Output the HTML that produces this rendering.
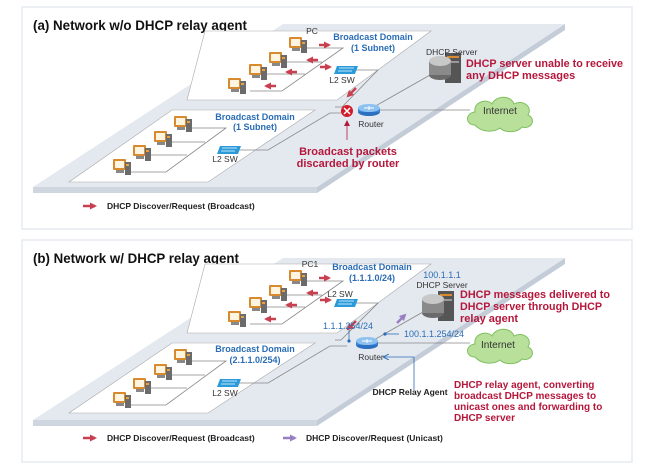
<!DOCTYPE html>
<html><head><meta charset="utf-8"><style>
body{margin:0;background:#fff;width:648px;height:471px;overflow:hidden}
svg{display:block}
text{font-family:"Liberation Sans",sans-serif}
.t{font-size:14px;font-weight:bold;fill:#111}
.s{font-size:8.5px;fill:#333}
.b{font-size:9px;font-weight:bold;fill:#2a6db5}
.bl{font-size:9px;fill:#2a6db5}
.r{font-size:11px;font-weight:bold;fill:#b5173b}
.lg{font-size:8.5px;font-weight:bold;fill:#222}
</style></head><body>
<svg width="648" height="471" viewBox="0 0 648 471" xmlns="http://www.w3.org/2000/svg">
<defs>
<marker id="ar" markerUnits="userSpaceOnUse" markerWidth="7" markerHeight="7" refX="5" refY="3.5" orient="auto"><path d="M0,0L7,3.5L0,7z" fill="#c8404f"/></marker>
<marker id="ap" markerUnits="userSpaceOnUse" markerWidth="7" markerHeight="7" refX="5" refY="3.5" orient="auto"><path d="M0,0L7,3.5L0,7z" fill="#9a7fc0"/></marker>
<marker id="ab" markerUnits="userSpaceOnUse" markerWidth="6" markerHeight="6" refX="5" refY="3" orient="auto"><path d="M0,0L6,3L0,6" fill="none" stroke="#2a6db5"/></marker>
<marker id="ad" markerUnits="userSpaceOnUse" markerWidth="6" markerHeight="6" refX="5" refY="3" orient="auto"><path d="M0,0L6,3L0,6z" fill="#b5173b"/></marker>
<symbol id="pc" viewBox="0 0 20 18"><rect x="0" y="1" width="13" height="11" rx="1" fill="#d88a2e"/><rect x="2" y="3" width="9" height="7" fill="#fff4e0"/><rect x="12" y="4" width="6" height="13" fill="#6b6b6b"/><rect x="13" y="6" width="3" height="2" fill="#e8a040"/><rect x="3" y="12" width="8" height="3" fill="#888"/></symbol>
<symbol id="sw" viewBox="0 0 24 8"><path d="M3,0H24L21,8H0z" fill="#2a9bd8"/><path d="M5,2H20M4,5H18" stroke="#bfe6fb" stroke-width="1"/></symbol>
<symbol id="rt" viewBox="0 0 22 12"><ellipse cx="11" cy="8" rx="11" ry="4" fill="#2d6fc0"/><rect x="0" y="4" width="22" height="4" fill="#3a82d6"/><ellipse cx="11" cy="4" rx="11" ry="4" fill="#8cc1f0"/><path d="M6,4H16M11,2V6" stroke="#fff" stroke-width="1"/></symbol>
<symbol id="sv" viewBox="0 0 34 30"><rect x="16" y="0" width="16" height="30" fill="#555"/><rect x="18" y="3" width="12" height="2" fill="#d88a2e"/><rect x="18" y="8" width="12" height="2" fill="#999"/><ellipse cx="11" cy="22" rx="11" ry="5" fill="#6a6a6a"/><rect x="0" y="8" width="22" height="14" fill="#8a8a8a"/><ellipse cx="11" cy="8" rx="11" ry="5" fill="#c8c8c8"/></symbol>
<symbol id="cl" viewBox="0 0 70 40"><path d="M10,32C0,32 0,20 10,19C8,9 22,5 27,11C31,2 46,2 49,11C58,6 68,14 63,22C72,26 66,37 57,34C52,40 40,40 35,35C28,40 16,39 10,32z" fill="#b8e09a" stroke="#7fc060"/></symbol>
</defs>

<!-- ===== Panel A ===== -->
<rect x="22" y="7" width="610" height="222" fill="#fff" stroke="#e6ebf0" stroke-width="1.5"/>
<polygon points="33,187 317,187 317,193 33,193" fill="#cfd6e0"/>
<polygon points="317,187 565,24 565,30 317,193" fill="#c4ccd8"/>
<polygon points="283,24 565,24 317,187 33,187" fill="#e4e9f0"/>
<text class="t" x="33" y="30" textLength="214" lengthAdjust="spacingAndGlyphs">(a) Network w/o DHCP relay agent</text>
<polygon points="205,31 431,31 337,100 187,100" fill="#fff" stroke="#aaa" stroke-width="0.6"/>
<polygon points="172,110 315,110 208,182 69,182" fill="#fff" stroke="#aaa" stroke-width="0.6"/>
<g stroke="#888" stroke-width="0.8" fill="none">
<path d="M304,48H343L282,91H250M283,62H322M262,74H305"/>
<path d="M352,70H378L342,107H335"/>
<path d="M187,128H226L166,172H128M167,142H205M147,155H187"/>
<path d="M232,150H268L330,113H347"/>
<path d="M378,110H470"/><path d="M372,108L430,75"/>
</g>
<use href="#pc" x="289" y="36" width="20" height="18"/>
<use href="#pc" x="269" y="51" width="20" height="18"/>
<use href="#pc" x="249" y="63" width="20" height="18"/>
<use href="#pc" x="228" y="77" width="20" height="18"/>
<use href="#pc" x="174" y="115" width="20" height="18"/>
<use href="#pc" x="154" y="130" width="20" height="18"/>
<use href="#pc" x="133" y="144" width="20" height="18"/>
<use href="#pc" x="113" y="158" width="20" height="18"/>
<use href="#sw" x="334" y="66" width="24" height="8"/>
<use href="#sw" x="217" y="146" width="24" height="8"/>
<g stroke="#c8404f" stroke-width="2.5">
<path d="M319,45H329" marker-end="url(#ar)"/><path d="M318,60H308" marker-end="url(#ar)"/>
<path d="M297,72H287" marker-end="url(#ar)"/><path d="M276,86H266" marker-end="url(#ar)"/>
<path d="M320,67H330" marker-end="url(#ar)"/><path d="M356,88L348,96" marker-end="url(#ar)"/>
</g>
<use href="#rt" x="358" y="104" width="22" height="12"/>
<circle cx="347" cy="111" r="6" fill="#d11a2a"/><path d="M344,108L350,114M350,108L344,114" stroke="#fff" stroke-width="1.5"/>
<path d="M347,140V121" stroke="#b5173b" stroke-width="0.8" marker-end="url(#ad)"/>
<use href="#sv" x="429" y="53" width="34" height="30"/>
<use href="#cl" x="465" y="93" width="70" height="40"/>
<text class="s" x="312" y="34" text-anchor="middle">PC</text>
<text class="b" x="373" y="40" text-anchor="middle">Broadcast Domain</text>
<text class="b" x="373" y="51" text-anchor="middle">(1 Subnet)</text>
<text class="s" x="426" y="55">DHCP Server</text>
<text class="r" x="466" y="67" textLength="157" lengthAdjust="spacingAndGlyphs">DHCP server unable to receive</text>
<text class="r" x="466" y="79">any DHCP messages</text>
<text class="s" x="342" y="83" text-anchor="middle">L2 SW</text>
<text class="s" x="371" y="127" text-anchor="middle">Router</text>
<text class="s" x="500" y="114" text-anchor="middle" style="font-size:10px">Internet</text>
<text class="r" x="348" y="155" text-anchor="middle">Broadcast packets</text>
<text class="r" x="348" y="167" text-anchor="middle">discarded by router</text>
<text class="b" x="255" y="120" text-anchor="middle">Broadcast Domain</text>
<text class="b" x="255" y="130" text-anchor="middle">(1 Subnet)</text>
<text class="s" x="225" y="162" text-anchor="middle">L2 SW</text>
<path d="M83,206H95" stroke="#c8404f" stroke-width="2.5" marker-end="url(#ar)"/>
<text class="lg" x="107" y="209">DHCP Discover/Request (Broadcast)</text>

<!-- ===== Panel B ===== -->
<rect x="22" y="240" width="610" height="222" fill="#fff" stroke="#e6ebf0" stroke-width="1.5"/>
<polygon points="33,420 317,420 317,426 33,426" fill="#cfd6e0"/>
<polygon points="317,420 565,258 565,264 317,426" fill="#c4ccd8"/>
<polygon points="283,258 565,258 317,420 33,420" fill="#e4e9f0"/>
<text class="t" x="33" y="263" textLength="206" lengthAdjust="spacingAndGlyphs">(b) Network w/ DHCP relay agent</text>
<polygon points="205,264 431,264 337,333 187,333" fill="#fff" stroke="#aaa" stroke-width="0.6"/>
<polygon points="172,343 315,343 208,413 69,413" fill="#fff" stroke="#aaa" stroke-width="0.6"/>
<g stroke="#888" stroke-width="0.8" fill="none">
<path d="M304,281H343L282,324H250M283,295H322M262,307H305"/>
<path d="M352,303H378L341,340H335"/>
<path d="M187,361H226L166,405H128M167,375H205M147,388H187"/>
<path d="M232,383H268L330,346H347"/>
<path d="M378,343H470"/><path d="M372,341L430,308"/>
</g>
<use href="#pc" x="289" y="269" width="20" height="18"/>
<use href="#pc" x="269" y="284" width="20" height="18"/>
<use href="#pc" x="249" y="296" width="20" height="18"/>
<use href="#pc" x="228" y="310" width="20" height="18"/>
<use href="#pc" x="174" y="348" width="20" height="18"/>
<use href="#pc" x="154" y="363" width="20" height="18"/>
<use href="#pc" x="133" y="377" width="20" height="18"/>
<use href="#pc" x="113" y="391" width="20" height="18"/>
<use href="#sw" x="334" y="299" width="24" height="8"/>
<use href="#sw" x="217" y="379" width="24" height="8"/>
<g stroke="#c8404f" stroke-width="2.5">
<path d="M319,278H329" marker-end="url(#ar)"/><path d="M318,293H308" marker-end="url(#ar)"/>
<path d="M297,305H287" marker-end="url(#ar)"/><path d="M276,319H266" marker-end="url(#ar)"/>
<path d="M320,300H330" marker-end="url(#ar)"/><path d="M356,321L348,329" marker-end="url(#ar)"/>
</g>
<path d="M397,323L405,315" stroke="#9a7fc0" stroke-width="2.5" marker-end="url(#ap)"/>
<use href="#rt" x="356" y="337" width="22" height="12"/>
<g stroke="#2a6db5" stroke-width="0.8" fill="none">
<path d="M349,330V341"/><path d="M385,334H399"/><path d="M414,357V390"/><path d="M414,357H384" marker-end="url(#ab)"/>
</g>
<circle cx="349" cy="341" r="1.6" fill="#2a6db5"/><circle cx="385" cy="334" r="1.6" fill="#2a6db5"/>
<use href="#sv" x="422" y="291" width="34" height="30"/>
<use href="#cl" x="465" y="325" width="70" height="40"/>
<text class="s" x="310" y="267" text-anchor="middle">PC1</text>
<text class="b" x="372" y="270" text-anchor="middle">Broadcast Domain</text>
<text class="b" x="372" y="281" text-anchor="middle">(1.1.1.0/24)</text>
<text class="bl" x="442" y="278" text-anchor="middle">100.1.1.1</text>
<text class="s" x="442" y="288" text-anchor="middle">DHCP Server</text>
<text class="r" x="460" y="298" textLength="150" lengthAdjust="spacingAndGlyphs">DHCP messages delivered to</text>
<text class="r" x="460" y="310" textLength="142" lengthAdjust="spacingAndGlyphs">DHCP server through DHCP</text>
<text class="r" x="460" y="322">relay agent</text>
<text class="s" x="340" y="297" text-anchor="middle">L2 SW</text>
<text class="bl" x="348" y="329" text-anchor="middle">1.1.1.254/24</text>
<text class="bl" x="404" y="337">100.1.1.254/24</text>
<text class="s" x="371" y="360" text-anchor="middle">Router</text>
<text class="s" x="498" y="348" text-anchor="middle" style="font-size:10px">Internet</text>
<text class="b" x="255" y="352" text-anchor="middle">Broadcast Domain</text>
<text class="b" x="255" y="363" text-anchor="middle">(2.1.1.0/254)</text>
<text class="s" x="225" y="396" text-anchor="middle">L2 SW</text>
<text class="lg" x="410" y="395" text-anchor="middle">DHCP Relay Agent</text>
<text class="r" x="454" y="388" style="font-size:10px">DHCP relay agent, converting</text>
<text class="r" x="454" y="399" style="font-size:10px">broadcast DHCP messages to</text>
<text class="r" x="454" y="410" style="font-size:10px">unicast ones and forwarding to</text>
<text class="r" x="454" y="421" style="font-size:10px">DHCP server</text>
<path d="M83,438H95" stroke="#c8404f" stroke-width="2.5" marker-end="url(#ar)"/>
<text class="lg" x="107" y="441">DHCP Discover/Request (Broadcast)</text>
<path d="M283,438H295" stroke="#9a7fc0" stroke-width="2.5" marker-end="url(#ap)"/>
<text class="lg" x="306" y="441">DHCP Discover/Request (Unicast)</text>
</svg>
</body></html>
